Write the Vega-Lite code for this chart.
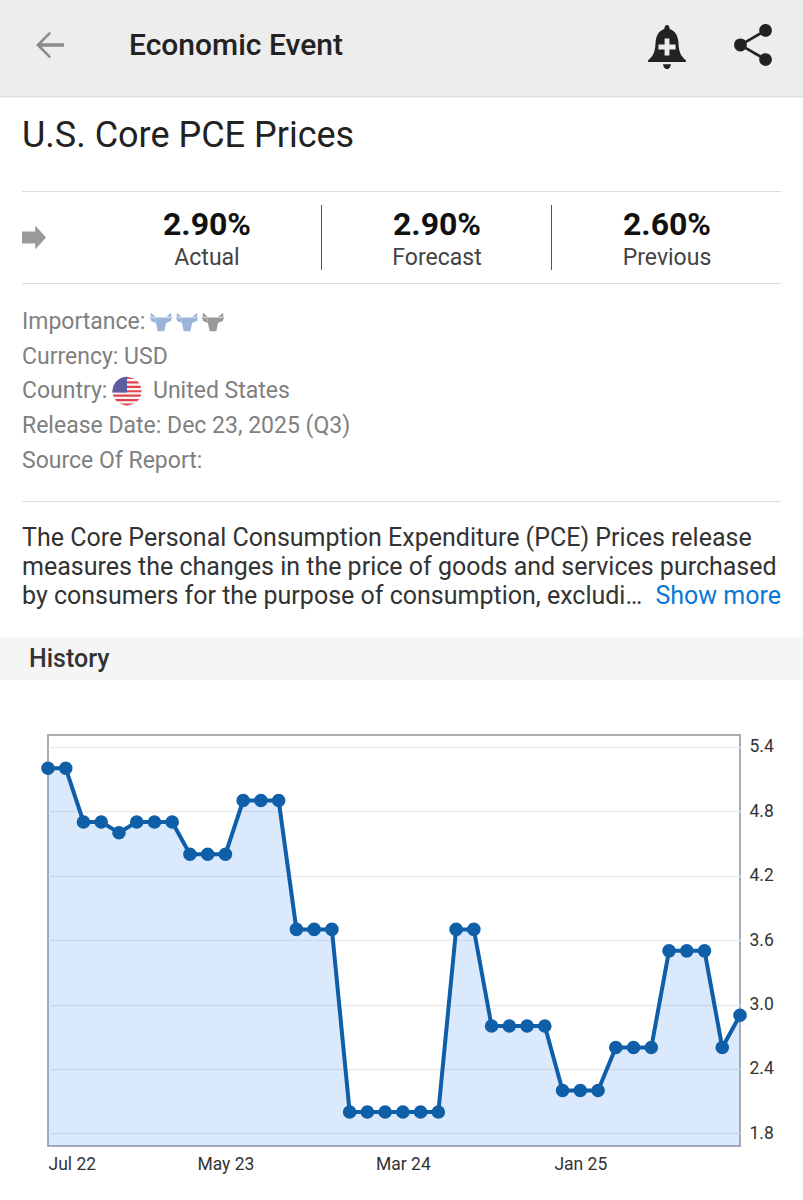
{
  "$schema": "https://vega.github.io/schema/vega-lite/v6.json",
  "description": "U.S. Core PCE Prices economic event screen",
  "padding": 0,
  "background": "#ffffff",
  "spacing": 0,
  "bounds": "flush",
  "config": {
    "view": {"stroke": null},
    "font": "Roboto",
    "concat": {"spacing": 0},
    "scale": {"pointPadding": 0}
  },
  "datasets": {
    "blank": [{"note": "spacer"}],
    "stats": [
      {"col": "actual", "part": "value", "text": "2.90%"},
      {"col": "forecast", "part": "value", "text": "2.90%"},
      {"col": "previous", "part": "value", "text": "2.60%"},
      {"col": "actual", "part": "label", "text": "Actual"},
      {"col": "forecast", "part": "label", "text": "Forecast"},
      {"col": "previous", "part": "label", "text": "Previous"}
    ],
    "meta": [
      {"line": 1, "text": "Importance:"},
      {"line": 2, "text": "Currency: USD"},
      {"line": 3, "text": "Country:"},
      {"line": 4, "text": "Release Date: Dec 23, 2025 (Q3)"},
      {"line": 5, "text": "Source Of Report:"}
    ],
    "bulls": [
      {"bull": 1, "state": "on"},
      {"bull": 2, "state": "on"},
      {"bull": 3, "state": "off"}
    ],
    "description": [
      {"line": 1, "text": "The Core Personal Consumption Expenditure (PCE) Prices release"},
      {"line": 2, "text": "measures the changes in the price of goods and services purchased"},
      {"line": 3, "text": "by consumers for the purpose of consumption, excludi…"}
    ],
    "history": [
      {"month": "Jul 22", "value": 5.2},
      {"month": "Aug 22", "value": 5.2},
      {"month": "Sep 22", "value": 4.7},
      {"month": "Oct 22", "value": 4.7},
      {"month": "Nov 22", "value": 4.6},
      {"month": "Dec 22", "value": 4.7},
      {"month": "Jan 23", "value": 4.7},
      {"month": "Feb 23", "value": 4.7},
      {"month": "Mar 23", "value": 4.4},
      {"month": "Apr 23", "value": 4.4},
      {"month": "May 23", "value": 4.4},
      {"month": "Jun 23", "value": 4.9},
      {"month": "Jul 23", "value": 4.9},
      {"month": "Aug 23", "value": 4.9},
      {"month": "Sep 23", "value": 3.7},
      {"month": "Oct 23", "value": 3.7},
      {"month": "Nov 23", "value": 3.7},
      {"month": "Dec 23", "value": 2.0},
      {"month": "Jan 24", "value": 2.0},
      {"month": "Feb 24", "value": 2.0},
      {"month": "Mar 24", "value": 2.0},
      {"month": "Apr 24", "value": 2.0},
      {"month": "May 24", "value": 2.0},
      {"month": "Jun 24", "value": 3.7},
      {"month": "Jul 24", "value": 3.7},
      {"month": "Aug 24", "value": 2.8},
      {"month": "Sep 24", "value": 2.8},
      {"month": "Oct 24", "value": 2.8},
      {"month": "Nov 24", "value": 2.8},
      {"month": "Dec 24", "value": 2.2},
      {"month": "Jan 25", "value": 2.2},
      {"month": "Feb 25", "value": 2.2},
      {"month": "Mar 25", "value": 2.6},
      {"month": "Apr 25", "value": 2.6},
      {"month": "May 25", "value": 2.6},
      {"month": "Jun 25", "value": 3.5},
      {"month": "Jul 25", "value": 3.5},
      {"month": "Aug 25", "value": 3.5},
      {"month": "Sep 25", "value": 2.6},
      {"month": "Oct 25", "value": 2.9}
    ]
  },
  "vconcat": [
    {
      "width": 803,
      "height": 90,
      "view": {"fill": "#ededed"},
      "resolve": {"scale": {"x": "independent"}},
      "layer": [
        {
          "data": {"values": [{"item": "back"}]},
          "mark": {"type": "point", "filled": true, "opacity": 1, "color": "#8a8a8a", "size": 784, "strokeWidth": 0,
            "shape": "M-1 0L-.05 -.95L.07 -.83L-.6 -.12H1V.12H-.6L.07 .83L-.05 .95Z"},
          "encoding": {
            "x": {"field": "item", "type": "nominal", "axis": null, "scale": {"domain": ["back", "title"], "range": [50, 129]}}
          }
        },
        {
          "data": {"values": [{"item": "title", "text": "Economic Event"}]},
          "mark": {"type": "text", "align": "left", "baseline": "middle", "fontSize": 30, "fontWeight": 500, "color": "#222222", "dy": 1},
          "encoding": {
            "x": {"field": "item", "type": "nominal", "axis": null, "scale": {"domain": ["back", "title"], "range": [50, 129]}},
            "text": {"field": "text"}
          }
        },
        {
          "data": {"values": [{"item": "bell"}, {"item": "share"}]},
          "mark": {"type": "point", "filled": true, "opacity": 1, "color": "#222222", "size": 1936, "strokeWidth": 0},
          "encoding": {
            "x": {"field": "item", "type": "nominal", "axis": null, "scale": {"domain": ["bell", "share"], "range": [667, 753]}},
            "shape": {"field": "item", "legend": null, "scale": {"domain": ["bell", "share"], "range": [
              "M0 -.91C.08 -.91 .12 -.83 .12 -.73C.42 -.63 .5 -.36 .52 -.11C.54 .24 .58 .49 .86 .69V.77H-.86V.69C-.58 .49 -.54 .24 -.52 -.11C-.5 -.36 -.42 -.63 -.12 -.73C-.12 -.83 -.08 -.91 0 -.91ZM-.18 .87H.18C.15 1.04 .08 1.09 0 1.09C-.08 1.09 -.15 1.04 -.18 .87Z",
              "M-.86 0a.29 .29 0 1 1 .58 0a.29 .29 0 1 1 -.58 0ZM.28 -.66a.29 .29 0 1 1 .58 0a.29 .29 0 1 1 -.58 0ZM.28 .66a.29 .29 0 1 1 .58 0a.29 .29 0 1 1 -.58 0ZM-.57 -.07L.57 -.73L.57 -.59L-.57 .07ZM-.57 -.07L.57 .59L.57 .73L-.57 .07Z"
            ]}}
          }
        },
        {
          "data": {"values": [{"item": "bell"}]},
          "mark": {"type": "point", "filled": true, "opacity": 1, "color": "#ededed", "size": 1936, "strokeWidth": 0,
            "shape": "M-.11 -.3H.11V-.02H.39V.2H.11V.48H-.11V.2H-.39V-.02H-.11Z"},
          "encoding": {
            "x": {"field": "item", "type": "nominal", "axis": null, "scale": {"domain": ["bell", "share"], "range": [667, 753]}}
          }
        }
      ]
    },
    {
      "width": 803,
      "height": 6,
      "view": {"fill": "#ededed"},
      "data": {"name": "blank"},
      "mark": {"type": "rect", "opacity": 0}
    },
    {
      "width": 803,
      "height": 1,
      "view": {"fill": "#dddddd"},
      "data": {"name": "blank"},
      "mark": {"type": "rect", "opacity": 0}
    },
    {
      "width": 803,
      "height": 1,
      "view": {"fill": "#f4f4f4"},
      "data": {"name": "blank"},
      "mark": {"type": "rect", "opacity": 0}
    },
    {
      "width": 803,
      "height": 93,
      "data": {"values": [{"col": "start", "text": "U.S. Core PCE Prices"}]},
      "mark": {"type": "text", "align": "left", "baseline": "middle", "fontSize": 36, "fontWeight": 400, "color": "#222222", "dy": -8.5},
      "encoding": {
        "x": {"field": "col", "type": "nominal", "axis": null, "scale": {"domain": ["start", "end"], "range": [22, 781]}},
        "text": {"field": "text"}
      }
    },
    {
      "width": 803,
      "height": 1,
      "data": {"values": [{"from": "start", "to": "end"}]},
      "mark": {"type": "rule", "color": "#dcdcdc", "strokeWidth": 1},
      "encoding": {
        "x": {"field": "from", "type": "nominal", "axis": null, "scale": {"type": "point", "domain": ["start", "end"], "range": [22, 781]}},
        "x2": {"field": "to"}
      }
    },
    {
      "width": 803,
      "height": 91,
      "resolve": {"scale": {"x": "independent", "y": "independent"}},
      "layer": [
        {
          "data": {"values": [{"item": "arrow"}]},
          "mark": {"type": "point", "filled": true, "opacity": 1, "color": "#999999", "size": 576, "strokeWidth": 0,
            "shape": "M-1 -.5H.1V-1L1 0L.1 1V.5H-1Z"},
          "encoding": {
            "x": {"field": "item", "type": "nominal", "axis": null, "scale": {"domain": ["arrow", "end"], "range": [34, 781]}}
          }
        },
        {
          "data": {"values": [{"sep": "first"}, {"sep": "second"}]},
          "mark": {"type": "rule", "color": "#555555", "strokeWidth": 1},
          "encoding": {
            "x": {"field": "sep", "type": "nominal", "axis": null, "scale": {"type": "point", "domain": ["first", "second"], "range": [321.5, 551.5]}},
            "y": {"datum": "top", "type": "nominal", "axis": null, "scale": {"type": "point", "domain": ["top", "bottom"], "range": [13, 78]}},
            "y2": {"datum": "bottom"}
          }
        },
        {
          "data": {"name": "stats"},
          "transform": [{"filter": "datum.part === 'value'"}],
          "mark": {"type": "text", "baseline": "middle", "fontSize": 32, "fontWeight": 700, "color": "#111111"},
          "encoding": {
            "x": {"field": "col", "type": "nominal", "axis": null, "scale": {"domain": ["actual", "forecast", "previous"], "range": [207, 667]}},
            "y": {"field": "part", "type": "nominal", "axis": null, "scale": {"domain": ["value", "label"], "range": [33, 66]}},
            "text": {"field": "text"}
          }
        },
        {
          "data": {"name": "stats"},
          "transform": [{"filter": "datum.part === 'label'"}],
          "mark": {"type": "text", "baseline": "middle", "fontSize": 23, "color": "#444444"},
          "encoding": {
            "x": {"field": "col", "type": "nominal", "axis": null, "scale": {"domain": ["actual", "forecast", "previous"], "range": [207, 667]}},
            "y": {"field": "part", "type": "nominal", "axis": null, "scale": {"domain": ["value", "label"], "range": [33, 66]}},
            "text": {"field": "text"}
          }
        }
      ]
    },
    {
      "width": 803,
      "height": 1,
      "data": {"values": [{"from": "start", "to": "end"}]},
      "mark": {"type": "rule", "color": "#dcdcdc", "strokeWidth": 1},
      "encoding": {
        "x": {"field": "from", "type": "nominal", "axis": null, "scale": {"type": "point", "domain": ["start", "end"], "range": [22, 781]}},
        "x2": {"field": "to"}
      }
    },
    {
      "width": 803,
      "height": 217,
      "resolve": {"scale": {"x": "independent", "y": "independent"}},
      "layer": [
        {
          "data": {"name": "meta"},
          "mark": {"type": "text", "align": "left", "baseline": "middle", "fontSize": 23, "color": "#808080"},
          "encoding": {
            "x": {"datum": "start", "type": "nominal", "axis": null, "scale": {"domain": ["start", "end"], "range": [22, 781]}},
            "y": {"field": "line", "type": "ordinal", "axis": null, "scale": {"domain": [1, 2, 3, 4, 5], "range": [38, 176.5]}},
            "text": {"field": "text"}
          }
        },
        {
          "data": {"name": "bulls"},
          "mark": {"type": "point", "filled": true, "opacity": 1, "size": 484, "strokeWidth": 0,
            "shape": "M-.55 -.4L.55 -.4L.42 .3L.3 .85L-.3 .85L-.42 .3ZM-.5 -.35L-1 -.45L-.9 -.1L-.45 .1ZM.5 -.35L1 -.45L.9 -.1L.45 .1ZM-.45 -.4L-.9 -.85L-.95 -.5ZM.45 -.4L.9 -.85L.95 -.5Z"},
          "encoding": {
            "x": {"field": "bull", "type": "ordinal", "axis": null, "scale": {"domain": [1, 2, 3], "range": [161, 213]}},
            "y": {"datum": 1, "type": "ordinal", "axis": null, "scale": {"domain": [1, 2, 3, 4, 5], "range": [38, 176.5]}},
            "color": {"field": "state", "legend": null, "scale": {"domain": ["on", "off"], "range": ["#9db4da", "#999999"]}}
          }
        },
        {
          "data": {"values": [{"item": "flag"}]},
          "mark": {"type": "point", "filled": true, "opacity": 1, "color": "#f6f6f6", "size": 841, "strokeWidth": 0, "shape": "circle"},
          "encoding": {
            "x": {"field": "item", "type": "nominal", "axis": null, "scale": {"domain": ["flag", "country"], "range": [127, 153]}},
            "y": {"datum": 3, "type": "ordinal", "axis": null, "scale": {"domain": [1, 2, 3, 4, 5], "range": [38, 176.5]}}
          }
        },
        {
          "data": {"values": [{"item": "flag"}]},
          "mark": {"type": "point", "filled": true, "opacity": 1, "color": "#e4444f", "size": 841, "strokeWidth": 0,
            "shape": "M-.533 -.846L0 -1L.533 -.846ZM-.722 -.692H.722L.843 -.538H-.843ZM-.923 -.385H.923L.973 -.231H-.973ZM-.997 -.077H.997V.077H-.997ZM-.973 .231H.973L.923 .385H-.923ZM-.843 .538H.843L.722 .692H-.722ZM-.533 .846H.533L0 1Z"},
          "encoding": {
            "x": {"field": "item", "type": "nominal", "axis": null, "scale": {"domain": ["flag", "country"], "range": [127, 153]}},
            "y": {"datum": 3, "type": "ordinal", "axis": null, "scale": {"domain": [1, 2, 3, 4, 5], "range": [38, 176.5]}}
          }
        },
        {
          "data": {"values": [{"item": "flag"}]},
          "mark": {"type": "point", "filled": true, "opacity": 1, "color": "#5b5f9f", "size": 841, "strokeWidth": 0,
            "shape": "M0 -1V.08H-1A1 1 0 0 1 0 -1Z"},
          "encoding": {
            "x": {"field": "item", "type": "nominal", "axis": null, "scale": {"domain": ["flag", "country"], "range": [127, 153]}},
            "y": {"datum": 3, "type": "ordinal", "axis": null, "scale": {"domain": [1, 2, 3, 4, 5], "range": [38, 176.5]}}
          }
        },
        {
          "data": {"values": [{"item": "country", "text": "United States"}]},
          "mark": {"type": "text", "align": "left", "baseline": "middle", "fontSize": 23, "color": "#808080"},
          "encoding": {
            "x": {"field": "item", "type": "nominal", "axis": null, "scale": {"domain": ["flag", "country"], "range": [127, 153]}},
            "y": {"datum": 3, "type": "ordinal", "axis": null, "scale": {"domain": [1, 2, 3, 4, 5], "range": [38, 176.5]}},
            "text": {"field": "text"}
          }
        }
      ]
    },
    {
      "width": 803,
      "height": 1,
      "data": {"values": [{"from": "start", "to": "end"}]},
      "mark": {"type": "rule", "color": "#dcdcdc", "strokeWidth": 1},
      "encoding": {
        "x": {"field": "from", "type": "nominal", "axis": null, "scale": {"type": "point", "domain": ["start", "end"], "range": [22, 781]}},
        "x2": {"field": "to"}
      }
    },
    {
      "width": 803,
      "height": 135,
      "resolve": {"scale": {"x": "independent"}},
      "layer": [
        {
          "data": {"name": "description"},
          "mark": {"type": "text", "align": "left", "baseline": "middle", "fontSize": 25, "color": "#333333"},
          "encoding": {
            "x": {"datum": "start", "type": "nominal", "axis": null, "scale": {"domain": ["start", "end"], "range": [22, 781]}},
            "y": {"field": "line", "type": "ordinal", "axis": null, "scale": {"domain": [1, 2, 3], "range": [36, 94]}},
            "text": {"field": "text"}
          }
        },
        {
          "data": {"values": [{"line": 3, "text": "Show more"}]},
          "mark": {"type": "text", "align": "right", "baseline": "middle", "fontSize": 25, "color": "#0a78d6"},
          "encoding": {
            "x": {"datum": "end", "type": "nominal", "axis": null, "scale": {"domain": ["start", "end"], "range": [22, 781]}},
            "y": {"field": "line", "type": "ordinal", "axis": null, "scale": {"domain": [1, 2, 3], "range": [36, 94]}},
            "text": {"field": "text"}
          }
        }
      ]
    },
    {
      "width": 803,
      "height": 43,
      "view": {"fill": "#f5f5f5"},
      "data": {"values": [{"col": "start", "text": "History"}]},
      "mark": {"type": "text", "align": "left", "baseline": "middle", "fontSize": 25, "fontWeight": 500, "color": "#333333"},
      "encoding": {
        "x": {"field": "col", "type": "nominal", "axis": null, "scale": {"domain": ["start", "end"], "range": [29, 781]}},
        "text": {"field": "text"}
      }
    },
    {
      "width": 803,
      "height": 55,
      "data": {"name": "blank"},
      "mark": {"type": "rect", "opacity": 0}
    },
    {
      "spacing": 0,
      "bounds": "flush",
      "hconcat": [
        {
          "width": 48,
          "height": 411,
          "data": {"name": "blank"},
          "mark": {"type": "rect", "opacity": 0}
        },
        {
          "width": 692,
          "height": 411,
          "view": {"stroke": "#a9adb3", "strokeWidth": 2},
          "data": {"name": "history"},
          "encoding": {
            "x": {
              "field": "month",
              "type": "ordinal",
              "sort": null,
              "scale": {"type": "point", "padding": 0},
              "axis": {
                "title": null,
                "values": ["Jul 22", "May 23", "Mar 24", "Jan 25"],
                "domain": false,
                "ticks": false,
                "grid": false,
                "labelAngle": 0,
                "labelFontSize": 17.5,
                "labelColor": "#333333",
                "labelPadding": 9,
                "labelAlign": {"condition": {"test": "datum.value === 'Jul 22'", "value": "left"}, "value": "center"}
              }
            },
            "y": {
              "field": "value",
              "type": "quantitative",
              "scale": {"domain": [1.683, 5.51], "nice": false, "zero": false},
              "axis": {
                "title": null,
                "orient": "right",
                "values": [1.8, 2.4, 3.0, 3.6, 4.2, 4.8, 5.4],
                "format": ".1f",
                "domain": false,
                "ticks": false,
                "grid": true,
                "gridColor": "#ececec",
                "gridWidth": 1.5,
                "labelFontSize": 17.5,
                "labelColor": "#333333",
                "labelPadding": 9
              }
            }
          },
          "layer": [
            {"mark": {"type": "area", "color": "#4a90ef", "opacity": 0.2, "clip": true}},
            {"mark": {"type": "line", "color": "#0f5fa8", "strokeWidth": 4}},
            {"mark": {"type": "point", "filled": true, "opacity": 1, "color": "#0f5fa8", "size": 185, "strokeWidth": 0}}
          ]
        }
      ]
    }
  ]
}
